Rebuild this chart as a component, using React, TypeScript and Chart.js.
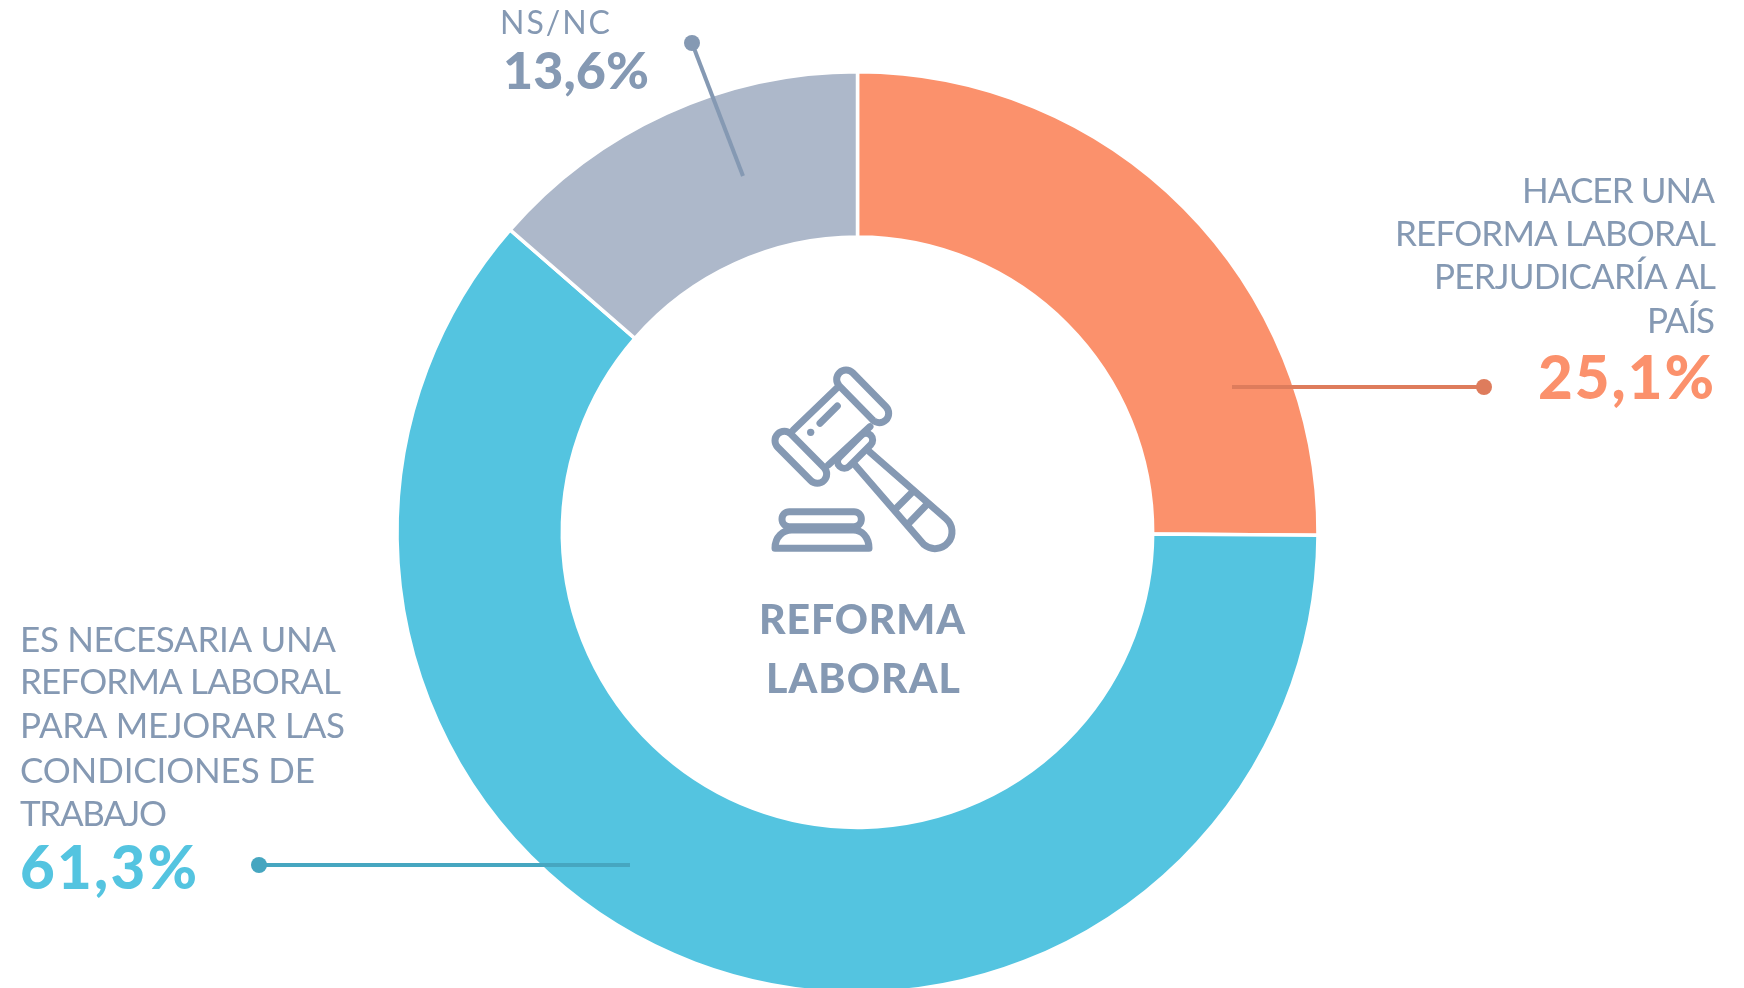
import React, { useEffect, useRef } from "react";
import { Chart, registerables } from "chart.js";

Chart.register(...registerables);

const categories = [
  "Hacer una reforma laboral perjudicaría al país",
  "Es necesaria una reforma laboral para mejorar las condiciones de trabajo",
  "NS/NC",
];
const values = [25.1, 61.3, 13.6];
const sliceColors = ["#FB916C", "#54C4E0", "#ADB8CA"];
const valueLabels = ["25,1%", "61,3%", "13,6%"];
const orangeLines = ["HACER UNA", "REFORMA LABORAL", "PERJUDICARÍA AL", "PAÍS"];
const blueLines = ["ES NECESARIA UNA", "REFORMA LABORAL", "PARA MEJORAR LAS", "CONDICIONES DE", "TRABAJO"];
const grayLines = ["NS/NC"];
const centerLines = ["REFORMA", "LABORAL"];

const TEXT = "#8599B3";
const FAMILY = "Lato, 'Noto Sans', sans-serif";

function fit(ctx: CanvasRenderingContext2D, s: string, font: string, w: number) {
  ctx.font = font;
  ctx.letterSpacing = "0px";
  const m = ctx.measureText(s).width;
  ctx.letterSpacing = ((w - m) / Math.max(1, s.length - 1)).toFixed(2) + "px";
}

function put(ctx: CanvasRenderingContext2D, s: string, font: string, color: string, left: number, width: number, base: number) {
  ctx.save();
  ctx.fillStyle = color;
  ctx.textAlign = "left";
  ctx.textBaseline = "alphabetic";
  fit(ctx, s, font, width);
  ctx.fillText(s, left, base);
  ctx.restore();
}

function leader(ctx: CanvasRenderingContext2D, x1: number, y1: number, x2: number, y2: number, color: string) {
  ctx.save();
  ctx.strokeStyle = color;
  ctx.fillStyle = color;
  ctx.lineWidth = 4;
  ctx.beginPath();
  ctx.moveTo(x1, y1);
  ctx.lineTo(x2, y2);
  ctx.stroke();
  ctx.beginPath();
  ctx.arc(x1, y1, 8, 0, Math.PI * 2);
  ctx.fill();
  ctx.restore();
}

function capsule(ctx: CanvasRenderingContext2D, ax: number, ay: number, bx: number, by: number, r: number) {
  const ang = Math.atan2(by - ay, bx - ax);
  ctx.beginPath();
  ctx.arc(ax, ay, r, ang + Math.PI / 2, ang - Math.PI / 2);
  ctx.arc(bx, by, r, ang - Math.PI / 2, ang + Math.PI / 2);
  ctx.closePath();
  ctx.stroke();
}

function seg(ctx: CanvasRenderingContext2D, a: number, b: number, c: number, d: number) {
  ctx.beginPath();
  ctx.moveTo(a, b);
  ctx.lineTo(c, d);
  ctx.stroke();
}

function gavel(ctx: CanvasRenderingContext2D) {
  ctx.save();
  ctx.translate(740, 350);
  ctx.scale(1 / 3, 1 / 3);
  ctx.strokeStyle = TEXT;
  ctx.fillStyle = TEXT;
  ctx.lineWidth = 21;
  ctx.lineCap = "round";
  ctx.lineJoin = "round";
  capsule(ctx, 318, 88, 418, 190, 28);
  capsule(ctx, 133, 272, 232, 372, 28);
  seg(ctx, 290, 115, 160, 240);
  seg(ctx, 390, 230, 265, 345);
  capsule(ctx, 313, 335, 378, 270, 20);
  seg(ctx, 240, 220, 292, 168);
  ctx.beginPath();
  ctx.arc(212, 247, 11, 0, Math.PI * 2);
  ctx.fill();
  ctx.beginPath();
  ctx.moveTo(388, 305);
  ctx.lineTo(618, 506);
  ctx.arc(585, 545, 51, (-50 * Math.PI) / 180, (130 * Math.PI) / 180);
  ctx.lineTo(345, 345);
  ctx.stroke();
  seg(ctx, 518, 425, 470, 473);
  seg(ctx, 562, 462, 510, 516);
  ctx.beginPath();
  ctx.roundRect(126, 485, 238, 45, 22);
  ctx.stroke();
  ctx.beginPath();
  ctx.moveTo(105, 595);
  ctx.bezierCurveTo(105, 560, 130, 540, 155, 540);
  ctx.lineTo(340, 540);
  ctx.bezierCurveTo(365, 540, 387, 560, 387, 595);
  ctx.closePath();
  ctx.stroke();
  ctx.restore();
}

const annotations = {
  id: "annotations",
  afterDraw(chart: Chart) {
    const ctx = chart.ctx;
    leader(ctx, 692, 43, 743, 176, "#8599B3");
    leader(ctx, 1484, 387, 1232, 387, "#DE7C5C");
    leader(ctx, 259, 865, 630, 865, "#46A6C0");

    const light = `400 35px ${FAMILY}`;
    const bold = `900 60px ${FAMILY}`;

    put(ctx, grayLines[0], `400 32px ${FAMILY}`, TEXT, 500, 110, 34);
    put(ctx, valueLabels[2], `900 52px ${FAMILY}`, TEXT, 503, 146, 89);

    const oL = [1522, 1395, 1434, 1647];
    const oW = [193, 321, 282, 68];
    const oB = [203, 246, 289, 333];
    orangeLines.forEach((s, i) => put(ctx, s, light, TEXT, oL[i], oW[i], oB[i]));
    put(ctx, valueLabels[0], bold, sliceColors[0], 1538, 176, 399);

    const bW = [316, 321, 325, 295, 147];
    const bB = [652, 694, 738, 783, 826];
    blueLines.forEach((s, i) => put(ctx, s, light, TEXT, 20, bW[i], bB[i]));
    put(ctx, valueLabels[1], bold, sliceColors[1], 20, 177, 889);

    gavel(ctx);
    put(ctx, centerLines[0], `900 41px ${FAMILY}`, TEXT, 759, 206, 634);
    put(ctx, centerLines[1], `900 41px ${FAMILY}`, TEXT, 766, 194, 693);
  },
};

export default function App() {
  const ref = useRef<HTMLCanvasElement>(null);
  useEffect(() => {
    const chart = new Chart(ref.current!, {
      type: "doughnut",
      data: {
        labels: categories,
        datasets: [
          {
            data: values,
            backgroundColor: sliceColors,
            borderColor: "#FFFFFF",
            borderWidth: 3.5,
            borderAlign: "center",
          },
        ],
      },
      options: {
        responsive: false,
        animation: false,
        cutout: "64.1%",
        layout: { padding: { top: 70, bottom: 105.5, left: 0, right: 29 } },
        plugins: { legend: { display: false }, tooltip: { enabled: false } },
      },
      plugins: [annotations],
    });
    return () => chart.destroy();
  }, []);
  return (
    <div style={{ position: "fixed", left: 0, top: 0, width: 1744, height: 988, overflow: "hidden", background: "#fff" }}>
      <canvas ref={ref} width={1744} height={1100} style={{ display: "block" }} />
    </div>
  );
}
